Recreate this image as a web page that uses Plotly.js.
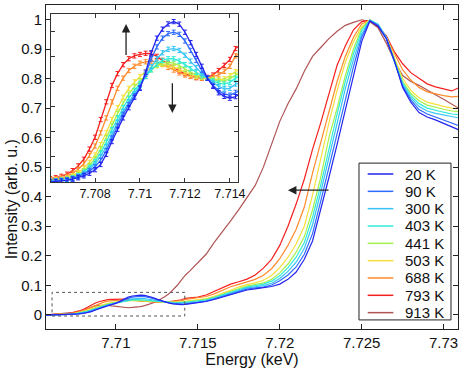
<!DOCTYPE html>
<html>
<head>
<meta charset="utf-8">
<script src="https://cdn.plot.ly/plotly-3.0.1.min.js"></script>
<style>
  body { margin: 0; background: #fff; }
  #graph { width: 463px; height: 368px; }
</style>
</head>
<body>
<div id="graph"></div>
<script>
// energy grid (keV), fine steps over the pre-edge, coarser over the edge
var energy = [7.70575, 7.706, 7.70625, 7.7065, 7.70675, 7.707, 7.70725, 7.7075, 7.70775, 7.708,
  7.70825, 7.7085, 7.70875, 7.709, 7.70925, 7.7095, 7.70975, 7.71, 7.71025, 7.7105,
  7.71075, 7.711, 7.71125, 7.7115, 7.71175, 7.712, 7.71225, 7.7125, 7.71275, 7.713,
  7.71325, 7.7135, 7.71375, 7.714, 7.71425,
  7.7145, 7.715, 7.7155, 7.716, 7.7165, 7.717, 7.7175, 7.718, 7.7185, 7.719,
  7.7195, 7.72, 7.7205, 7.721, 7.7215, 7.722, 7.7225, 7.723, 7.7235, 7.724,
  7.7245, 7.725, 7.7255, 7.726, 7.7265, 7.727, 7.7275, 7.728, 7.7285, 7.729,
  7.7295, 7.73, 7.7305, 7.7309];

var k20 = [-0.0010, -0.0008, -0.0006, -0.0004, -0.0001, 0.0004, 0.0010, 0.0018, 0.0029, 0.0044,
  0.0066, 0.0109, 0.0163, 0.0215, 0.0263, 0.0306, 0.0350, 0.0388, 0.0456, 0.0538,
  0.0600, 0.0638, 0.0660, 0.0670, 0.0659, 0.0625, 0.0581, 0.0531, 0.0481, 0.0431,
  0.0396, 0.0369, 0.0354, 0.0346, 0.0353,
  0.037, 0.040, 0.045, 0.052, 0.060, 0.068, 0.076, 0.084, 0.088, 0.091,
  0.096, 0.104, 0.12, 0.145, 0.188, 0.25, 0.355, 0.465, 0.577, 0.69,
  0.81, 0.925, 0.995, 0.977, 0.935, 0.86, 0.77, 0.72, 0.685, 0.67,
  0.66, 0.648, 0.635, 0.627];

var k90 = [-0.0008, -0.0006, -0.0005, -0.0003, 0.0000, 0.0006, 0.0014, 0.0024, 0.0039, 0.0056,
  0.0084, 0.0125, 0.0178, 0.0229, 0.0278, 0.0319, 0.0356, 0.0391, 0.0448, 0.0513,
  0.0563, 0.0600, 0.0619, 0.0625, 0.0616, 0.0588, 0.0548, 0.0506, 0.0463, 0.0431,
  0.0401, 0.0378, 0.0363, 0.0359, 0.0371,
  0.038, 0.042, 0.046, 0.053, 0.062, 0.070, 0.079, 0.087, 0.091, 0.094,
  0.101, 0.115, 0.135, 0.162, 0.205, 0.275, 0.385, 0.50, 0.615, 0.73,
  0.84, 0.94, 0.996, 0.98, 0.937, 0.858, 0.775, 0.728, 0.695, 0.68,
  0.67, 0.66, 0.648, 0.641];

var k300 = [-0.0006, -0.0005, -0.0004, -0.0001, 0.0001, 0.0008, 0.0016, 0.0029, 0.0046, 0.0069,
  0.0100, 0.0141, 0.0194, 0.0244, 0.0291, 0.0331, 0.0366, 0.0400, 0.0438, 0.0479,
  0.0513, 0.0538, 0.0553, 0.0556, 0.0548, 0.0528, 0.0503, 0.0475, 0.0450, 0.0431,
  0.0413, 0.0396, 0.0385, 0.0388, 0.0406,
  0.041, 0.044, 0.048, 0.055, 0.064, 0.073, 0.082, 0.091, 0.095, 0.099,
  0.107, 0.123, 0.147, 0.178, 0.225, 0.305, 0.415, 0.535, 0.65, 0.765,
  0.865, 0.95, 0.997, 0.984, 0.94, 0.855, 0.78, 0.735, 0.705, 0.69,
  0.682, 0.676, 0.67, 0.667];

var k403 = [-0.0005, -0.0004, -0.0003, 0.0000, 0.0003, 0.0009, 0.0019, 0.0034, 0.0054, 0.0079,
  0.0115, 0.0160, 0.0213, 0.0263, 0.0306, 0.0346, 0.0379, 0.0409, 0.0438, 0.0466,
  0.0490, 0.0506, 0.0513, 0.0513, 0.0503, 0.0488, 0.0471, 0.0456, 0.0441, 0.0431,
  0.0419, 0.0410, 0.0406, 0.0413, 0.0431,
  0.044, 0.047, 0.051, 0.058, 0.067, 0.077, 0.086, 0.094, 0.099, 0.104,
  0.114, 0.132, 0.16, 0.195, 0.245, 0.33, 0.44, 0.565, 0.68, 0.79,
  0.885, 0.962, 0.998, 0.983, 0.94, 0.86, 0.785, 0.742, 0.715, 0.70,
  0.692, 0.686, 0.68, 0.678];

var k441 = [-0.0004, -0.0003, -0.0001, 0.0001, 0.0005, 0.0013, 0.0024, 0.0040, 0.0063, 0.0091,
  0.0131, 0.0179, 0.0231, 0.0281, 0.0325, 0.0363, 0.0394, 0.0419, 0.0444, 0.0466,
  0.0484, 0.0494, 0.0498, 0.0494, 0.0484, 0.0469, 0.0456, 0.0444, 0.0435, 0.0431,
  0.0424, 0.0419, 0.0419, 0.0429, 0.0444,
  0.045, 0.048, 0.053, 0.060, 0.070, 0.080, 0.089, 0.097, 0.102, 0.108,
  0.12, 0.142, 0.172, 0.212, 0.265, 0.355, 0.465, 0.60, 0.70, 0.81,
  0.90, 0.97, 0.998, 0.982, 0.94, 0.865, 0.79, 0.75, 0.725, 0.71,
  0.702, 0.696, 0.69, 0.688];

var k503 = [-0.0002, 0.0000, 0.0001, 0.0004, 0.0009, 0.0019, 0.0031, 0.0050, 0.0075, 0.0106,
  0.0150, 0.0200, 0.0256, 0.0306, 0.0350, 0.0388, 0.0415, 0.0438, 0.0459, 0.0475,
  0.0484, 0.0488, 0.0486, 0.0479, 0.0469, 0.0456, 0.0446, 0.0439, 0.0434, 0.0431,
  0.0426, 0.0425, 0.0428, 0.0441, 0.0459,
  0.047, 0.050, 0.055, 0.063, 0.074, 0.085, 0.094, 0.102, 0.108, 0.117,
  0.133, 0.16, 0.195, 0.24, 0.30, 0.405, 0.53, 0.65, 0.76, 0.855,
  0.925, 0.975, 0.998, 0.98, 0.94, 0.87, 0.80, 0.76, 0.735, 0.72,
  0.712, 0.706, 0.70, 0.698];

var k688 = [0.0001, 0.0003, 0.0005, 0.0009, 0.0016, 0.0029, 0.0046, 0.0069, 0.0104, 0.0144,
  0.0200, 0.0263, 0.0331, 0.0388, 0.0431, 0.0463, 0.0481, 0.0494, 0.0500, 0.0503,
  0.0500, 0.0489, 0.0476, 0.0465, 0.0453, 0.0444, 0.0438, 0.0434, 0.0431, 0.0431,
  0.0438, 0.0445, 0.0460, 0.0481, 0.0525,
  0.054, 0.057, 0.062, 0.071, 0.084, 0.095, 0.103, 0.111, 0.12, 0.134,
  0.156, 0.19, 0.235, 0.29, 0.365, 0.48, 0.585, 0.69, 0.79, 0.875,
  0.94, 0.985, 0.998, 0.978, 0.94, 0.885, 0.83, 0.795, 0.77, 0.755,
  0.748, 0.742, 0.738, 0.74];

var k793 = [0.0003, 0.0006, 0.0010, 0.0016, 0.0025, 0.0040, 0.0060, 0.0088, 0.0131, 0.0181,
  0.0256, 0.0331, 0.0400, 0.0450, 0.0488, 0.0513, 0.0525, 0.0531, 0.0536, 0.0534,
  0.0523, 0.0506, 0.0491, 0.0479, 0.0461, 0.0450, 0.0440, 0.0433, 0.0431, 0.0434,
  0.0444, 0.0463, 0.0485, 0.0510, 0.0556,
  0.057, 0.060, 0.067, 0.079, 0.093, 0.104, 0.112, 0.121, 0.135, 0.158,
  0.188, 0.235, 0.30, 0.375, 0.46, 0.56, 0.65, 0.745, 0.845, 0.91,
  0.965, 0.993, 0.997, 0.975, 0.945, 0.89, 0.85, 0.82, 0.80, 0.782,
  0.772, 0.764, 0.758, 0.768];

var k913 = [0.0000, 0.001, 0.0013, 0.0018, 0.0026, 0.0038, 0.0055, 0.008, 0.012, 0.017,
  0.022, 0.027, 0.030, 0.032, 0.0325, 0.032, 0.030, 0.028, 0.026, 0.025,
  0.024, 0.025, 0.026, 0.028, 0.031, 0.035, 0.040, 0.046, 0.053, 0.062,
  0.072, 0.085, 0.10, 0.118, 0.135,
  0.148, 0.175, 0.205, 0.245, 0.28, 0.318, 0.356, 0.395, 0.438, 0.50,
  0.575, 0.655, 0.715, 0.765, 0.825, 0.875, 0.905, 0.935, 0.96, 0.98,
  0.99, 0.999, 0.992, 0.972, 0.92, 0.86, 0.81, 0.79, 0.777, 0.76,
  0.745, 0.73, 0.712, 0.70];

var tempNames = ["20 K", "90 K", "300 K", "403 K", "441 K", "503 K", "688 K", "793 K", "913 K"];
var series = [k20, k90, k300, k403, k441, k503, k688, k793, k913];
var colors = ["#2424ee", "#2f6bff", "#38c4f6", "#30ecd6", "#a6f04c", "#f6df3c", "#ff8a2c", "#f51f1f", "#b05454"];
var insetCount = 8; // 913 K is not in the inset
var errBar = 0.0009;

var xTickVals = [7.71, 7.715, 7.72, 7.725, 7.73];
var xTickText = ["7.71", "7.715", "7.72", "7.725", "7.73"];
var yTickVals = [0, 0.1, 0.2, 0.3, 0.4, 0.5, 0.6, 0.7, 0.8, 0.9, 1];
var yTickText = ["0", "0.1", "0.2", "0.3", "0.4", "0.5", "0.6", "0.7", "0.8", "0.9", "1"];
var insetTickVals = [7.708, 7.71, 7.712, 7.714];
var insetTickText = ["7.708", "7.71", "7.712", "7.714"];

var font = "Liberation Sans, Arial, Helvetica, sans-serif";
var data = [];

for (var i = series.length - 1; i >= 0; i--) {
  data.push({
    x: energy,
    y: series[i],
    mode: "lines",
    name: tempNames[i],
    line: { color: colors[i], width: 1.2 },
    xaxis: "x",
    yaxis: "y",
    showlegend: false,
    hoverinfo: "skip",
  });
}

for (var j = insetCount - 1; j >= 0; j--) {
  data.push({
    x: energy,
    y: series[j],
    mode: "lines",
    name: tempNames[j],
    line: { color: colors[j], width: 1.3 },
    error_y: { type: "constant", value: errBar, width: 2, thickness: 1, color: colors[j] },
    xaxis: "x2",
    yaxis: "y2",
    showlegend: false,
    hoverinfo: "skip",
  });
}

// legend drawn by hand so that rows match the original spacing
var shapes = [
  {
    type: "rect", xref: "x", yref: "y",
    x0: 7.7061, x1: 7.7142, y0: -0.004, y1: 0.076,
    line: { color: "#555", width: 1, dash: "dot" },
  },
  {
    type: "rect", xref: "paper", yref: "paper",
    x0: 0.7597, x1: 0.983, y0: 0.028, y1: 0.512,
    fillcolor: "#fff", line: { color: "#222", width: 1 }, layer: "above",
  },
];
var annotations = [];
for (var n = 0; n < tempNames.length; n++) {
  var rowY = (329 - (174 + n * 17.33)) / 324;
  shapes.push({
    type: "line", xref: "paper", yref: "paper",
    x0: 0.7808, x1: 0.843, y0: rowY, y1: rowY,
    line: { color: colors[n], width: 1.5 }, layer: "above",
  });
  annotations.push({
    xref: "paper", yref: "paper", x: 0.8658, y: rowY,
    xanchor: "left", yanchor: "middle", showarrow: false,
    text: tempNames[n], font: { size: 15, color: "#111", family: font },
  });
}

// y title sits below the axis middle in the original
annotations.push({
  xref: "paper", yref: "paper", x: -0.083, y: 0.40,
  xanchor: "center", yanchor: "middle", textangle: -90, showarrow: false,
  text: "Intensity (arb. u.)", font: { size: 16, color: "#111", family: font },
});

// arrows
annotations.push({
  xref: "x", yref: "y", axref: "x", ayref: "y",
  x: 7.7205, y: 0.422, ax: 7.72307, ay: 0.422,
  text: "", showarrow: true, arrowhead: 2, arrowsize: 1.3, arrowwidth: 1.3, arrowcolor: "#222",
});
annotations.push({
  xref: "x2", yref: "y2", axref: "x2", ayref: "y2",
  x: 7.70938, y: 0.066, ax: 7.70938, ay: 0.0522,
  text: "", showarrow: true, arrowhead: 2, arrowsize: 1.3, arrowwidth: 1.3, arrowcolor: "#222",
});
annotations.push({
  xref: "x2", yref: "y2", axref: "x2", ayref: "y2",
  x: 7.71144, y: 0.0284, ax: 7.71144, ay: 0.0416,
  text: "", showarrow: true, arrowhead: 2, arrowsize: 1.3, arrowwidth: 1.3, arrowcolor: "#222",
});

var layout = {
  width: 463,
  height: 368,
  margin: { l: 46, r: 5, t: 5, b: 39 },
  paper_bgcolor: "#fff",
  plot_bgcolor: "#fff",
  font: { family: font, size: 15, color: "#111" },
  showlegend: false,
  hovermode: false,
  xaxis: {
    range: [7.70573, 7.73088],
    tickvals: xTickVals, ticktext: xTickText,
    ticks: "inside", ticklen: 5, tickcolor: "#222",
    showline: true, mirror: "ticks", linecolor: "#222", linewidth: 1,
    showgrid: false, zeroline: false,
    tickfont: { size: 15 },
    title: { text: "Energy (keV)", font: { size: 16 } },
  },
  yaxis: {
    range: [-0.048, 1.049],
    tickvals: yTickVals, ticktext: yTickText,
    ticks: "inside", ticklen: 5, tickcolor: "#222",
    showline: true, mirror: "ticks", linecolor: "#222", linewidth: 1,
    showgrid: false, zeroline: false,
    tickfont: { size: 15 },
  },
  xaxis2: {
    domain: [0.0121, 0.466], anchor: "y2",
    range: [7.70604, 7.71436],
    tickvals: insetTickVals, ticktext: insetTickText,
    ticks: "inside", ticklen: 4, tickcolor: "#333",
    showline: true, mirror: "ticks", linecolor: "#333", linewidth: 1,
    showgrid: false, zeroline: false,
    tickfont: { size: 12.5 },
  },
  yaxis2: {
    domain: [0.4537, 0.9722], anchor: "x2",
    range: [-0.0008, 0.0702],
    tick0: 0.0099, dtick: 0.0106,
    ticks: "inside", ticklen: 4, tickcolor: "#333",
    showline: true, mirror: "ticks", linecolor: "#333", linewidth: 1,
    showgrid: false, zeroline: false, showticklabels: false,
  },
  shapes: shapes,
  annotations: annotations,
};

Plotly.newPlot("graph", data, layout, { displayModeBar: false, staticPlot: true });
</script>
</body>
</html>
